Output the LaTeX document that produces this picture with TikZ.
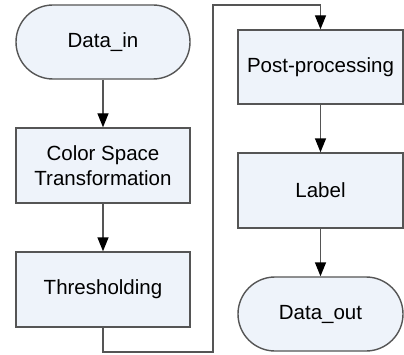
\documentclass[tikz,border=0pt]{standalone}
\usepackage{fontspec}
\setmainfont{Liberation Sans}
\usetikzlibrary{arrows.meta}
\definecolor{boxfill}{HTML}{EEF3FA}
\definecolor{boxline}{HTML}{555555}
\tikzset{
  x=1pt, y=1pt,
  stepbox/.style={draw=boxline, line width=1.4pt, fill=boxfill, minimum height=75pt,
    inner sep=0pt, align=center, font=\fontsize{20.5}{25.5}\selectfont},
  terminal/.style={stepbox, rounded corners=37pt, minimum height=74pt},
  flow/.style={draw=boxline, line width=1.4pt,
    -{Triangle[length=14pt,width=11pt,fill=black,color=black]}}
}
\begin{document}
\begin{tikzpicture}
\useasboundingbox (0,0) rectangle (404,354);
% left column
\node[terminal, minimum width=174pt] (din) at (103,312) {Data\_in};
\node[stepbox, minimum width=174pt] (cst) at (103,188.5) {Color Space\\Transformation};
\node[stepbox, minimum width=174pt] (thr) at (103,64.5) {Thresholding};
% right column
\node[stepbox, minimum width=165pt, minimum height=74pt] (post) at (320.5,287) {Post-processing};
\node[stepbox, minimum width=165pt] (lab) at (320.5,163.5) {Label};
\node[terminal, minimum width=165pt] (dout) at (320.5,40) {Data\_out};
% connectors
\coordinate (c1) at (103,2);
\coordinate (c2) at (213,2);
\coordinate (c3) at (213,349);
\coordinate (c4) at (320.5,349);
\draw[flow] (din) -- (cst);
\draw[flow] (cst) -- (thr);
\draw[flow] (thr.south) -- (c1) -- (c2) -- (c3) -- (c4) -- (post.north);
\draw[flow] (post) -- (lab);
\draw[flow] (lab) -- (dout);
\end{tikzpicture}
\end{document}
